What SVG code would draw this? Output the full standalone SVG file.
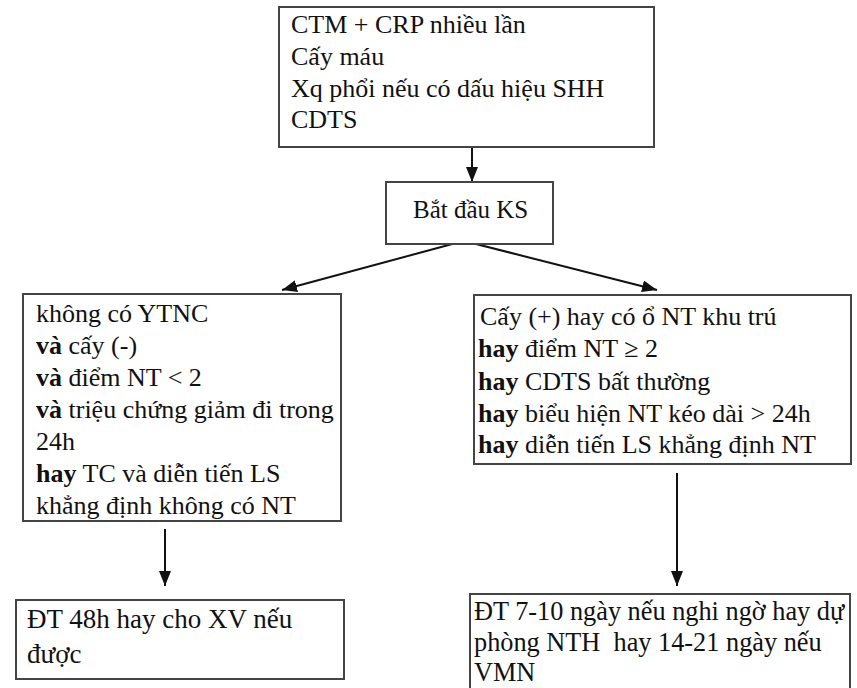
<svg xmlns="http://www.w3.org/2000/svg" width="857" height="688" viewBox="0 0 857 688">
<defs>
<marker id="ah" markerUnits="userSpaceOnUse" markerWidth="16" markerHeight="12" refX="15" refY="6" orient="auto" viewBox="0 0 16 12">
<path d="M0,0 L15,6 L0,12 z" fill="#111"/>
</marker>
<style>
.box{fill:#fff;stroke:#444;stroke-width:2}
.t{font-family:"Liberation Serif","Times New Roman",serif;font-size:26px;fill:#111;white-space:pre}
.k{font-size:25px}
.l{font-size:27px}
.r{font-size:26.3px}
.b{font-weight:bold}
.c{stroke:#111;stroke-width:2;fill:none;marker-end:url(#ah)}
</style>
</defs>
<rect width="857" height="688" fill="#fff"/>
<g id="connectors">
<line class="c" x1="472" y1="147" x2="472" y2="182"/>
<line class="c" x1="456" y1="243" x2="282" y2="290"/>
<line class="c" x1="472" y1="243" x2="657" y2="290"/>
<line class="c" x1="165" y1="529" x2="165" y2="586"/>
<line class="c" x1="677" y1="473" x2="677" y2="586"/>
</g>
<g id="n1">
<rect class="box" x="279" y="7" width="375" height="140"/>
<text class="t" x="291" y="33">CTM + CRP nhiều lần</text>
<text class="t" x="291" y="65">Cấy máu</text>
<text class="t" x="291" y="97">Xq phổi nếu có dấu hiệu SHH</text>
<text class="t" x="291" y="128">CDTS</text>
</g>
<g id="n2">
<rect class="box" x="386" y="182" width="167" height="62"/>
<text class="t k" x="413" y="218">Bắt đầu KS</text>
</g>
<g id="n3">
<rect class="box" x="23" y="294" width="318" height="227"/>
<text class="t" x="36" y="322">không có YTNC</text>
<text class="t" x="36" y="354"><tspan class="b">và</tspan> cấy (-)</text>
<text class="t" x="36" y="386"><tspan class="b">và</tspan> điểm NT &lt; 2</text>
<text class="t" x="36" y="418"><tspan class="b">và</tspan> triệu chứng giảm đi trong</text>
<text class="t" x="36" y="450">24h</text>
<text class="t" x="36" y="482"><tspan class="b">hay</tspan> TC và diễn tiến LS</text>
<text class="t" x="36" y="514">khẳng định không có NT</text>
</g>
<g id="n4">
<rect class="box" x="474" y="295" width="377" height="169"/>
<text class="t" x="480" y="325">Cấy (+) hay có ổ NT khu trú</text>
<text class="t" x="478" y="357"><tspan class="b">hay</tspan> điểm NT ≥ 2</text>
<text class="t" x="478" y="390"><tspan class="b">hay</tspan> CDTS bất thường</text>
<text class="t" x="478" y="422"><tspan class="b">hay</tspan> biểu hiện NT kéo dài &gt; 24h</text>
<text class="t" x="478" y="453"><tspan class="b">hay</tspan> diễn tiến LS khẳng định NT</text>
</g>
<g id="n5">
<rect class="box" x="16" y="600" width="328" height="79"/>
<text class="t l" x="27" y="628">ĐT 48h hay cho XV nếu</text>
<text class="t l" x="27" y="663">được</text>
</g>
<g id="n6">
<rect class="box" x="470" y="594" width="380" height="110"/>
<text class="t r" x="474" y="620">ĐT 7-10 ngày nếu nghi ngờ hay dự</text>
<text class="t r" x="474" y="651">phòng NTH  hay 14-21 ngày nếu</text>
<text class="t r" x="474" y="681">VMN</text>
</g>
</svg>
